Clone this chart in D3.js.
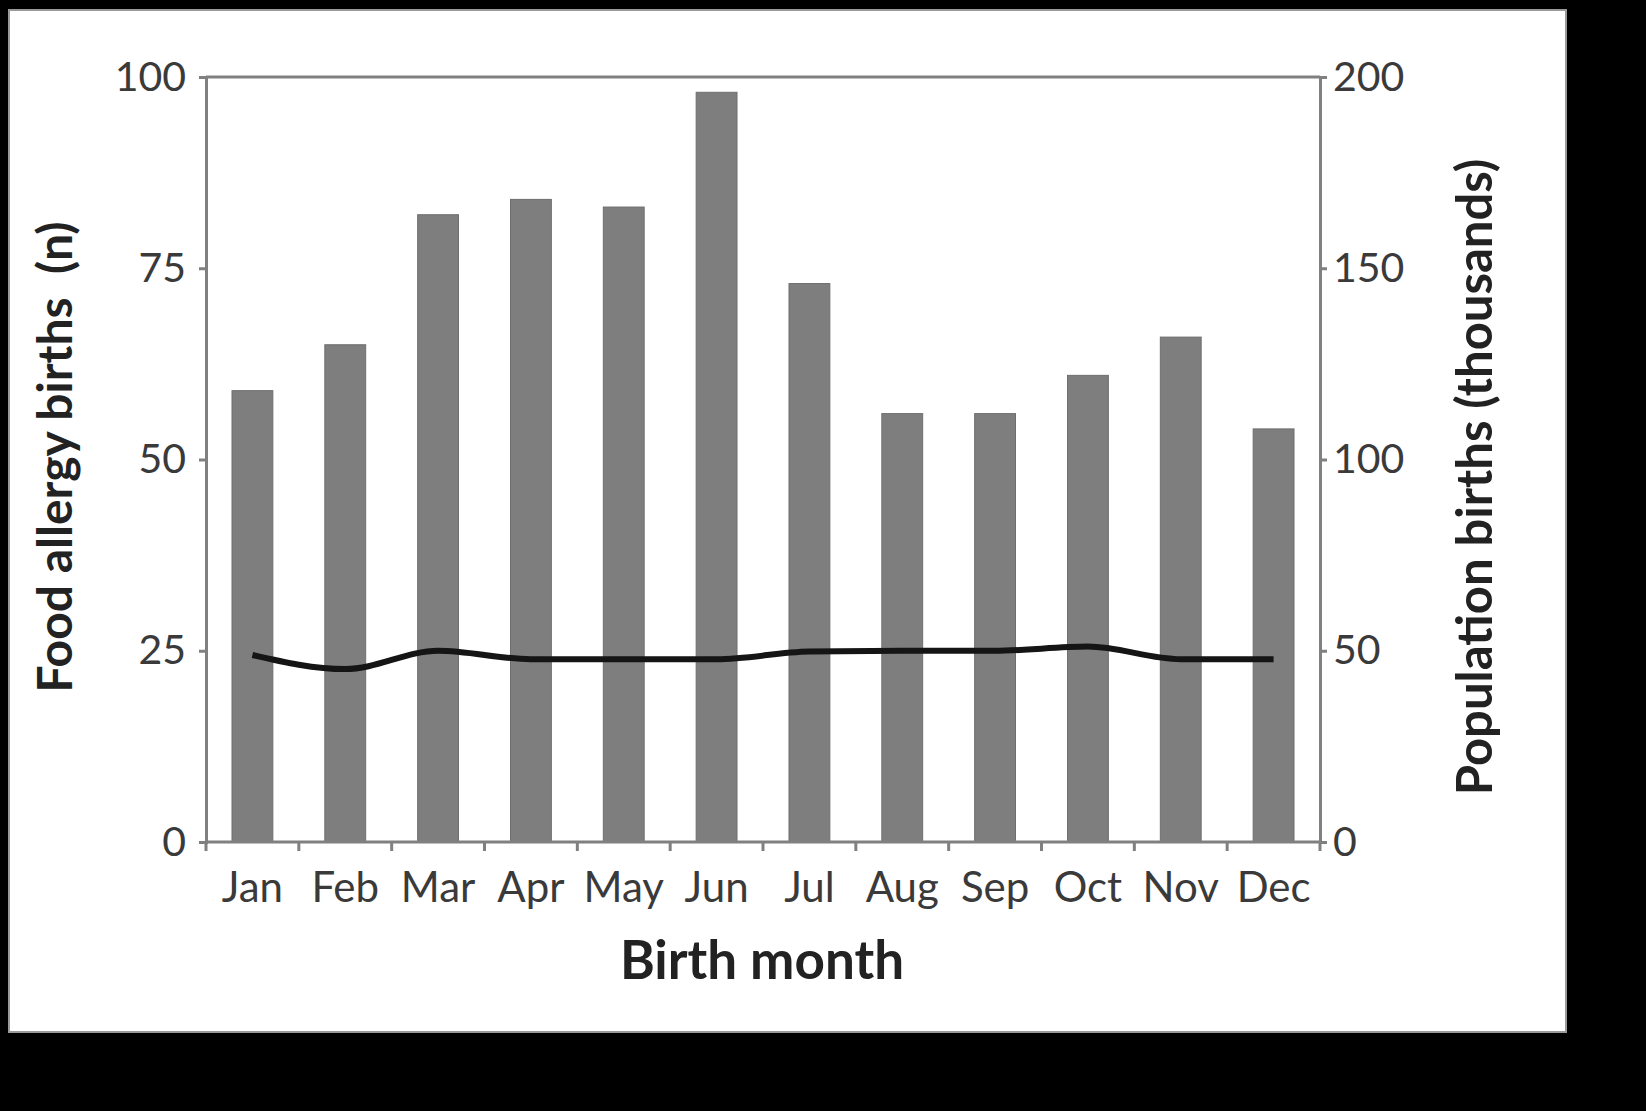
<!DOCTYPE html>
<html><head><meta charset="utf-8">
<script src="https://cdn.jsdelivr.net/npm/d3@7"></script>
<style>body{margin:0;background:#000;}svg{display:block;}</style>
</head><body>
<script>
const months = ["Jan","Feb","Mar","Apr","May","Jun","Jul","Aug","Sep","Oct","Nov","Dec"];
const allergyBirths = [59,65,82,84,83,98,73,56,56,61,66,54];
const populationBirths = [48.9,45.2,50.0,47.8,47.8,47.8,49.8,50.0,50.0,51.1,47.8,47.8];
const leftTicks = [0,25,50,75,100];
const rightTicks = [0,50,100,150,200];

const W = 1646, H = 1111;
const m = {left:206, right:1320, top:77, bottom:842};
const svg = d3.select("body").append("svg").attr("width",W).attr("height",H);
svg.append("rect").attr("width",W).attr("height",H).attr("fill","#000");
svg.append("rect").attr("x",9).attr("y",10).attr("width",1557).attr("height",1022)
  .attr("fill","#fff").attr("stroke","#9a9a9a").attr("stroke-width",2);

const x = d3.scaleBand().domain(months).range([m.left,m.right]).paddingInner(0.56).paddingOuter(0.28);
const xb = d3.scaleBand().domain(months).range([m.left,m.right]);
const yL = d3.scaleLinear().domain([0,100]).range([m.bottom,m.top]);
const yR = d3.scaleLinear().domain([0,200]).range([m.bottom,m.top]);

const font = "Lato, 'Open Sans', sans-serif";
const axisColor = "#808080";

// bars
svg.append("g").selectAll("rect").data(months).join("rect")
  .attr("x",d=>x(d)).attr("width",x.bandwidth())
  .attr("y",(d,i)=>yL(allergyBirths[i])).attr("height",(d,i)=>m.bottom-yL(allergyBirths[i]))
  .attr("fill","#7e7e7e").attr("stroke","#6e6e6e").attr("stroke-width",1);

// frame top
svg.append("line").attr("x1",m.left).attr("x2",m.right).attr("y1",m.top).attr("y2",m.top)
  .attr("stroke",axisColor).attr("stroke-width",3);

// left axis
const gL = svg.append("g").attr("transform",`translate(${m.left},0)`)
  .call(d3.axisLeft(yL).tickValues(leftTicks).tickSize(7).tickPadding(13));
// right axis
const gR = svg.append("g").attr("transform",`translate(${m.right},0)`)
  .call(d3.axisRight(yR).tickValues(rightTicks).tickSize(7).tickPadding(6));
// bottom axis with ticks at band boundaries
const gB = svg.append("g").attr("transform",`translate(0,${m.bottom})`)
  .call(d3.axisBottom(xb).tickSize(0).tickPadding(30));
gB.selectAll(".tick text").attr("dy","0.71em");
const bounds = months.map(d=>xb(d)).concat([m.right]);
svg.append("g").selectAll("line").data(bounds).join("line")
  .attr("x1",d=>d).attr("x2",d=>d).attr("y1",m.bottom).attr("y2",m.bottom+9)
  .attr("stroke",axisColor).attr("stroke-width",3);

[gL,gR,gB].forEach(g=>{
  g.select(".domain").attr("stroke",axisColor).attr("stroke-width",3);
  g.selectAll(".tick line").attr("stroke",axisColor).attr("stroke-width",3);
  g.selectAll(".tick text").attr("font-family",font).attr("font-size",41).attr("fill","#3a3a3a");
});
gB.selectAll(".tick text").attr("font-size",42);
gB.select(".domain").attr("d",`M${m.left},0H${m.right}`);

// line
const line = d3.line().x((d,i)=>xb(months[i])+xb.bandwidth()/2).y(d=>yR(d)).curve(d3.curveMonotoneX);
svg.append("path").datum(populationBirths).attr("d",line)
  .attr("fill","none").attr("stroke","#151515").attr("stroke-width",6).attr("stroke-linejoin","round");

// titles
svg.append("text").attr("transform",`translate(72,${457}) rotate(-90)`)
  .attr("text-anchor","middle").attr("font-family",font).attr("font-weight","bold")
  .attr("font-size",48).attr("fill","#222").attr("xml:space","preserve").text("Food allergy births  (n)");
svg.append("text").attr("transform",`translate(1492,${477}) rotate(-90)`)
  .attr("text-anchor","middle").attr("font-family",font).attr("font-weight","bold")
  .attr("font-size",49).attr("fill","#222").text("Population births (thousands)");
svg.append("text").attr("x",762).attr("y",979)
  .attr("text-anchor","middle").attr("font-family",font).attr("font-weight","bold")
  .attr("font-size",53).attr("fill","#222").text("Birth month");
</script>
</body></html>
